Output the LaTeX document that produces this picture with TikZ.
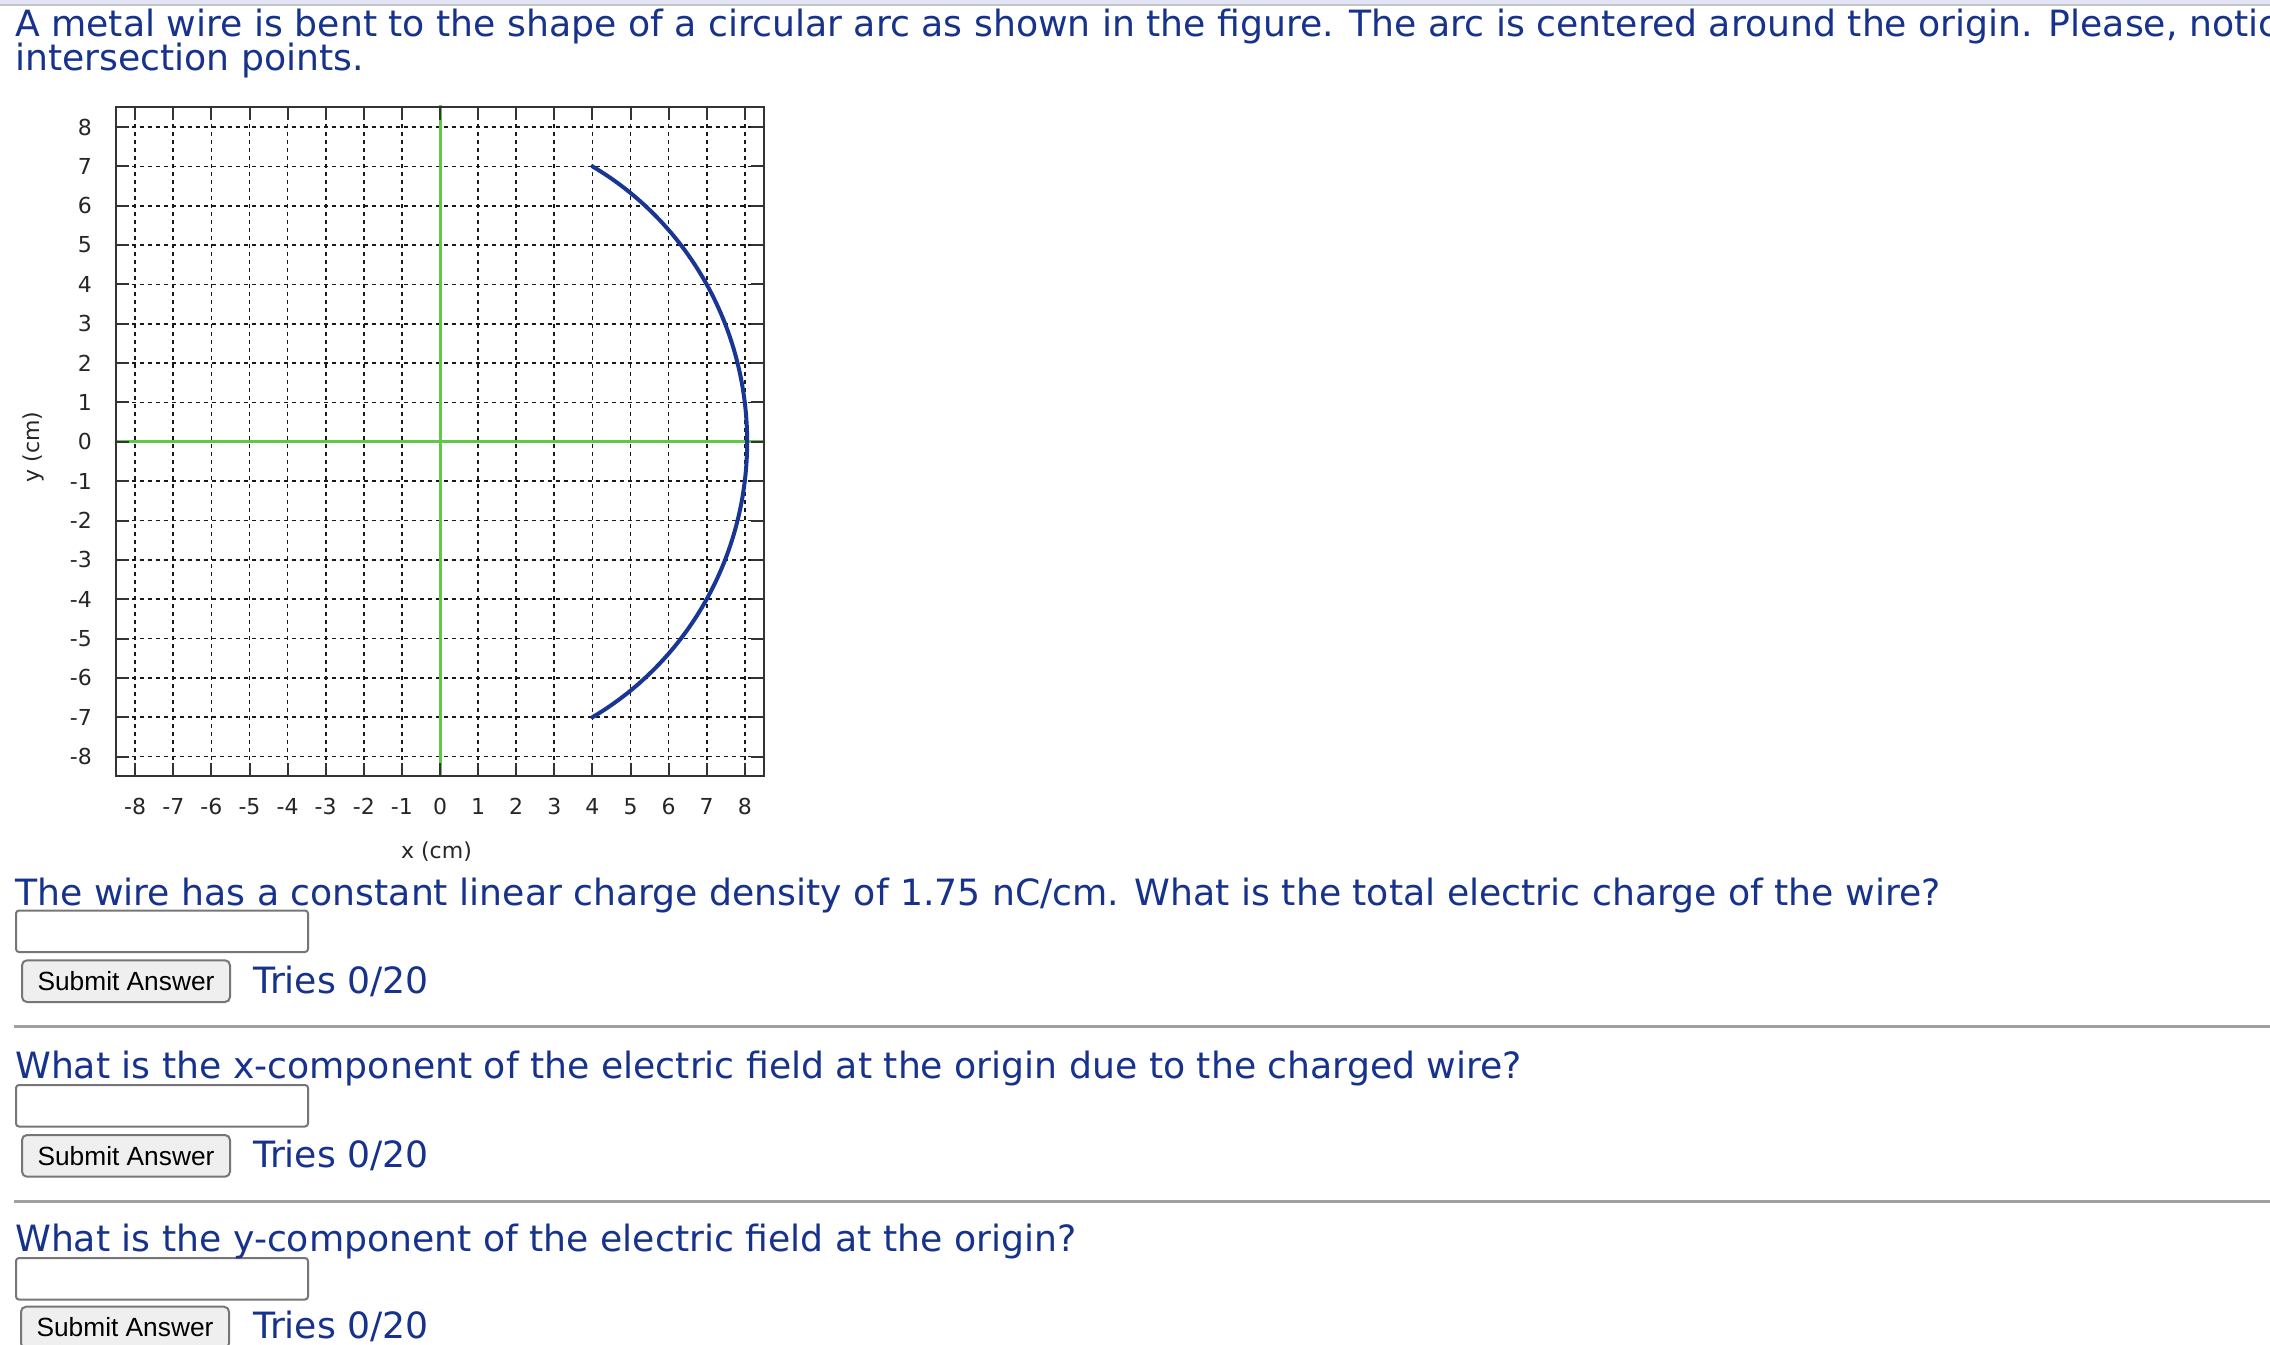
\documentclass[tikz,border=0pt]{standalone}
\usepackage{fontspec}
\setmainfont{DejaVu Sans}
\newfontfamily\btnfont{Liberation Sans}
\definecolor{qblue}{RGB}{22,50,140}
\definecolor{wireblue}{RGB}{26,54,148}
\definecolor{axgreen}{RGB}{96,200,70}
\definecolor{framegray}{RGB}{51,51,51}
\definecolor{boxgray}{RGB}{118,118,118}
\definecolor{btnfill}{RGB}{239,239,239}
\definecolor{sepgray}{RGB}{160,160,160}
\definecolor{bandlav}{RGB}{228,228,247}
\definecolor{bandgray}{RGB}{196,196,196}
\tikzset{
 qtext/.style={anchor=base west, inner sep=0pt, text=qblue, font=\fontsize{36.2}{36.2}\selectfont},
 ticklab/.style={inner sep=0pt, text=black!85, font=\fontsize{22}{22}\selectfont},
 gridline/.style={draw=black!90, line width=1.7pt, dash pattern=on 4pt off 4pt},
 frameline/.style={draw=framegray, line width=2pt},
 axisline/.style={draw=axgreen, line width=3pt},
 wireline/.style={draw=wireblue, line width=4pt, line join=round, line cap=round},
 ansbox/.style={draw=boxgray, line width=2pt, rounded corners=3pt, fill=white, minimum width=292pt, minimum height=41.5pt, inner sep=0pt, anchor=north west},
 btnshape/.style={draw=boxgray, line width=2pt, rounded corners=5pt, fill=btnfill},
 btn/.style={btnshape, minimum width=208pt, minimum height=41.7pt, inner sep=0pt, anchor=north west, btntext},
 btntext/.style={font=\btnfont\fontsize{26.3}{26.3}\selectfont, text=black},
 sepline/.style={draw=sepgray, line width=3pt},
}
\begin{document}
\begin{tikzpicture}[x=1pt,y=-1pt]
\useasboundingbox (0,0) rectangle (2270,1344);
\clip (0,0) rectangle (2270,1344);
\fill[white] (0,0) rectangle (2270,1344);
\fill[bandlav] (0,0) rectangle (2270,4);
\fill[bandgray] (0,4) rectangle (2270,6.3);
\node[qtext] (intro1) at (15,36) {A metal wire is bent to the shape of a circular arc as shown in the figure. The arc is centered around the origin. Please, notic};
\node[qtext] (intro2) at (15,70.7) {intersection points.};

% plot
\begin{scope}[shift={(440,441.8)}, x=38.1pt, y=39.35pt]
 \foreach \i in {-8,...,8} {
   \draw[gridline] (\i,-8.5) -- (\i,8.5);
   \draw[gridline] (-8.5,\i) -- (8.5,\i);
 }
 \draw[axisline] (-8.5,0) -- (8.5,0);
 \draw[axisline] (0,-8.5) -- (0,8.55);
 \foreach \i in {-8,...,8} {
   \draw[frameline] (\i,-8.5) -- ++(0pt,13pt);
   \draw[frameline] (\i,8.5) -- ++(0pt,-13pt);
   \draw[frameline] (-8.5,\i) -- ++(13pt,0pt);
   \draw[frameline] (8.5,\i) -- ++(-13pt,0pt);
 }
 \draw[frameline] (-8.5,-8.5) rectangle (8.5,8.5);
 \draw[wireline] plot[domain=-60.255:60.255, samples=121] ({8.062*cos(\x)},{8.062*sin(\x)});
\end{scope}

\foreach \i [count=\k] in {-8,...,8} {
  \node[ticklab, anchor=east] (yl\k) at (92, {441.8-39.35*\i}) {\i};
  \node[ticklab] (xl\k) at ({440+38.1*\i}, 806.5) {\i};
}
\node[ticklab] (xlabel) at (436.5,851.7) {x (cm)};
\node[ticklab, rotate=90] (ylabel) at (33,447) {y (cm)};

% question 1
\node[ansbox] (a1) at (15,909.5) {};
\node[qtext] (q1) at (15,905.5) {The wire has a constant linear charge density of 1.75 nC/cm. What is the total electric charge of the wire?};
\node[btn] (b1) at (21,959.3) {Submit Answer};
\node[qtext] (t1) at (253,993.3) {Tries 0/20};
\draw[sepline] (14,1026.7) -- (2270,1026.7);

% question 2
\node[ansbox] (a2) at (15,1084) {};
\node[qtext] (q2) at (15,1078.5) {What is the x-component of the electric field at the origin due to the charged wire?};
\node[btn] (b2) at (21,1134) {Submit Answer};
\node[qtext] (t2) at (253,1167.3) {Tries 0/20};
\draw[sepline] (14,1201.7) -- (2270,1201.7);

% question 3 (button cut by the lower edge)
\node[ansbox] (a3) at (15,1257) {};
\node[qtext] (q3) at (15,1251.7) {What is the y-component of the electric field at the origin?};
\draw[btnshape] (21,1306.7) rectangle (229,1348.4);
\node[btntext, inner sep=0pt] (b3) at (125,1327.5) {Submit Answer};
\node[qtext] (t3) at (253,1338.8) {Tries 0/20};
\end{tikzpicture}
\end{document}
